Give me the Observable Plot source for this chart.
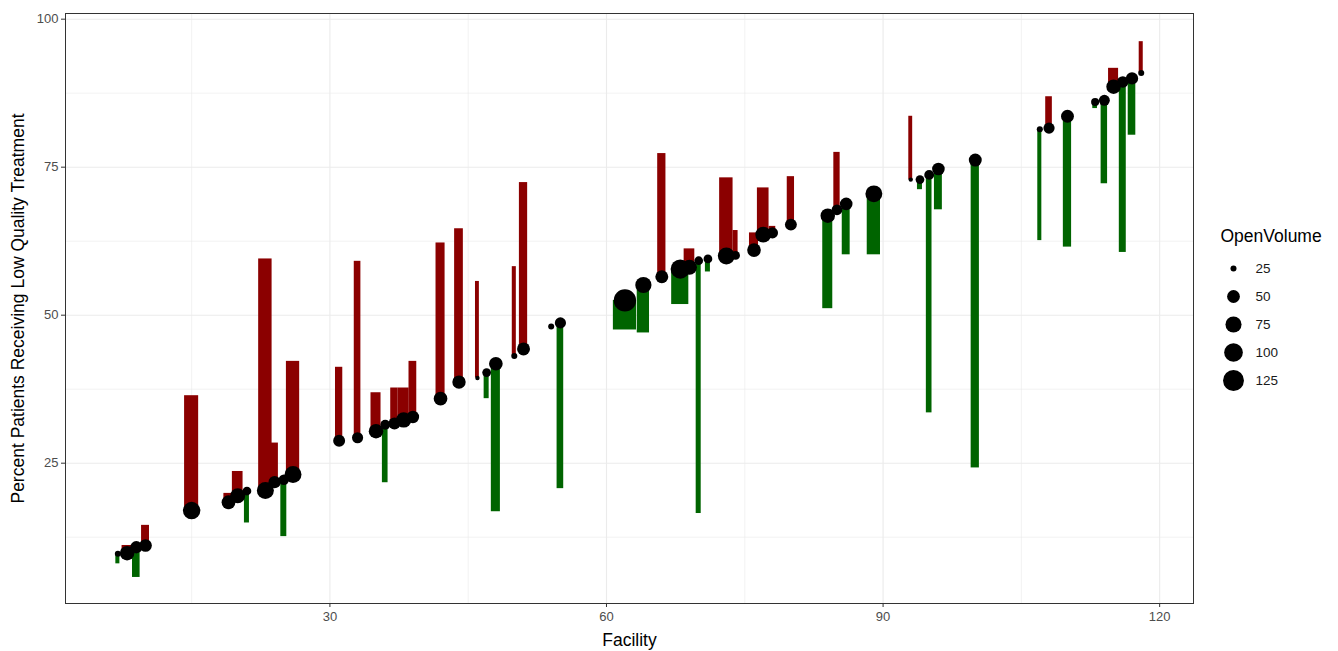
<!DOCTYPE html>
<html><head><meta charset="utf-8">
<script src="https://cdn.jsdelivr.net/npm/d3@7"></script>
<script src="https://cdn.jsdelivr.net/npm/@observablehq/plot@0.6"></script>
<style>
body{margin:0;background:#fff;font-family:"Liberation Sans",Arial,sans-serif;}
#wrap{position:relative;width:1338px;height:651px;overflow:hidden;}
#wrap > svg{position:absolute;left:0;top:0;}
#legend{position:absolute;left:1205px;top:220px;}
#wrap g[aria-label$="tick label"]{font-size:13px;fill:#4D4D4D;}
</style></head><body><div id="wrap"><div id="legend"></div></div>
<script>
// Data
const facility   = [7,8,9,10,15,19,20,21,23,24,25,26,31,33,35,36,37,38,39,42,44,46,47,48,50,51,54,55,62,64,66,68,69,70,71,73,74,76,77,78,80,84,85,86,89,93,94,95,96,100,107,108,110,113,114,115,116,117,118];
const rate       = [9.7,9.8,10.8,11.1,17.0,18.4,19.5,20.3,20.4,21.8,22.2,23.1,28.8,29.3,30.4,31.5,31.7,32.3,32.8,35.9,38.7,39.4,40.3,41.8,43.1,44.3,48.1,48.7,52.5,55.1,56.5,57.8,58.1,59.2,59.5,60.0,60.1,61.0,63.6,63.9,65.3,66.8,67.8,68.8,70.5,72.9,72.9,73.7,74.7,76.2,81.4,81.6,83.6,86.0,86.3,88.6,89.4,90.0,90.9];
const target     = [8.0,11.1,5.7,14.5,36.4,19.9,23.6,14.9,59.5,28.4,12.6,42.2,41.2,59.1,36.9,21.7,37.7,37.7,42.2,62.2,64.6,55.7,35.9,16.8,58.2,72.4,48.1,20.7,47.5,47.0,77.3,51.8,61.2,16.5,57.3,73.2,64.3,63.9,71.5,65.0,73.4,51.1,77.5,60.2,60.2,83.6,71.2,33.5,67.8,24.2,62.6,86.9,61.5,84.9,72.2,91.7,60.6,80.4,96.2];
const openVolume = [25,62,47,49,87,57,66,31,83,47,37,82,45,41,62,35,46,68,48,56,54,24,31,56,25,51,25,41,143,76,51,106,66,31,31,83,31,56,72,41,45,62,39,49,82,24,31,35,49,51,25,41,51,29,40,62,43,47,25];

const xTicks = [30, 60, 90, 120];
const yTicks = [25, 50, 75, 100];
const xMinor = [15, 45, 75, 105];
const yMinor = [12.5, 37.5, 62.5, 87.5];
const legendVolumes = [25, 50, 75, 100, 125];

const rows = facility.map((f, i) => ({facility: f, rate: rate[i], target: target[i], vol: openVolume[i]}));
const VOL_MIN = 24;
const rScale = {type: "sqrt", domain: [0, 119], range: [2.2, 11.15]};
const half = d => d.vol / 114;
const FONT = '"Liberation Sans", Arial, sans-serif';

const chart = Plot.plot({
  width: 1338, height: 651,
  marginLeft: 65, marginRight: 145, marginTop: 13, marginBottom: 48,
  style: {fontFamily: FONT, background: "white", overflow: "visible", fontSize: "12.5px"},
  x: {domain: [1.32, 123.67]},
  y: {domain: [1.3, 100.96]},
  r: rScale,
  color: {domain: ["above", "below"], range: ["#8B0000", "#006400"]},
  marks: [
    Plot.gridX(xMinor, {stroke: "#EBEBEB", strokeOpacity: 1, strokeWidth: 0.6}),
    Plot.gridY(yMinor, {stroke: "#EBEBEB", strokeOpacity: 1, strokeWidth: 0.6}),
    Plot.gridX(xTicks, {stroke: "#EBEBEB", strokeOpacity: 1, strokeWidth: 1.1}),
    Plot.gridY(yTicks, {stroke: "#EBEBEB", strokeOpacity: 1, strokeWidth: 1.1}),
    Plot.rect(rows, {
      x1: d => d.facility - half(d), x2: d => d.facility + half(d),
      y1: "rate", y2: "target",
      fill: d => d.target >= d.rate ? "above" : "below"
    }),
    Plot.dot(rows, {x: "facility", y: "rate", r: d => d.vol - VOL_MIN, fill: "black", stroke: "none"}),
    Plot.frame({stroke: "#333333", strokeWidth: 1}),
    Plot.axisX(xTicks, {tickSize: 4, tickPadding: 4, fontSize: 13, color: "#4D4D4D", stroke: "#333333", label: null}),
    Plot.axisY(yTicks, {tickSize: 4, tickPadding: 3, fontSize: 13, color: "#4D4D4D", stroke: "#333333", label: null}),
    Plot.text(["Facility"], {frameAnchor: "bottom", lineAnchor: "middle", dy: 37, fontSize: 17.5, fill: "black"}),
    Plot.text(["Percent Patients Receiving Low Quality Treatment"], {frameAnchor: "left", textAnchor: "middle", lineAnchor: "middle", dx: -47, rotate: -90, fontSize: 17.5, fill: "black"})
  ]
});
document.getElementById("wrap").prepend(chart);

const legend = Plot.plot({
  width: 133, height: 180,
  marginLeft: 0, marginRight: 0, marginTop: 0, marginBottom: 0,
  style: {fontFamily: FONT, background: "transparent", overflow: "visible"},
  y: {type: "point", domain: legendVolumes, range: [48, 160], padding: 0, axis: null},
  r: rScale,
  marks: [
    Plot.text(["OpenVolume"], {frameAnchor: "top-left", lineAnchor: "middle", dx: 15, dy: 16, fontSize: 17.5, fill: "black", textAnchor: "start"}),
    Plot.dot(legendVolumes, {y: d => d, frameAnchor: "left", dx: 28, r: d => d - VOL_MIN, fill: "black", stroke: "none"}),
    Plot.text(legendVolumes, {y: d => d, text: d => String(d), frameAnchor: "left", dx: 50, textAnchor: "start", lineAnchor: "middle", fontSize: 13.5, fill: "#1A1A1A"})
  ]
});
document.getElementById("legend").append(legend);
</script>
</body></html>
